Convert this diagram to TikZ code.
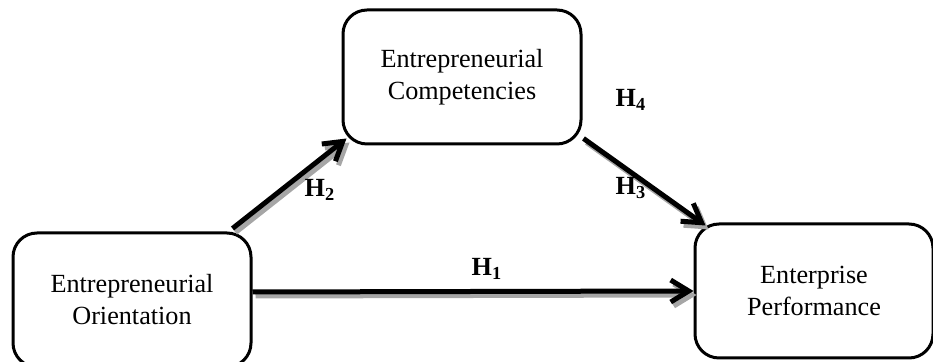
\documentclass[tikz,border=0pt]{standalone}
\usepackage{fontspec}
\setmainfont{Liberation Serif}
\usetikzlibrary{arrows.meta}
\begin{document}
\begin{tikzpicture}[x=0.5pt,y=-0.5pt,
  construct/.style={draw,line width=1.5pt,rounded corners=12pt,
    minimum width=119pt,minimum height=67pt,align=center,
    font=\fontsize{13.1}{16}\selectfont},
  hyp/.style={line width=2.5pt,-{Straight Barb[length=9pt,width=11pt]}},
  hypshadow/.style={hyp,draw=black!35,transform canvas={shift={(1.5pt,-2pt)}}},
  hlabel/.style={font=\fontsize{13.1}{16}\selectfont\bfseries}]
  \useasboundingbox (0,0) rectangle (933,362);
  % constructs
  \node[construct] (orient) at (132,300) {Entrepreneurial\\Orientation};
  \node[construct] (comp) at (462,77) {Entrepreneurial\\Competencies};
  \node[construct] (perf) at (814,291) {Enterprise\\Performance};
  % hypotheses, grey shadow first
  \foreach \lk in {hypshadow,hyp} {
    \draw[\lk] ([shift={(0,-8)}]orient.east) -- (perf.west);
    \draw[\lk] ([shift={(-20,-3)}]orient.north east) -- ([shift={(5,-7)}]comp.south west);
    \draw[\lk] ([shift={(1,-7)}]comp.south east) -- ([shift={(12,3)}]perf.north west);
  }
  \node[hlabel] (h1) at (487,269) {H\textsubscript{1}};
  \node[hlabel] (h2) at (320,190) {H\textsubscript{2}};
  \node[hlabel] (h3) at (631,188) {H\textsubscript{3}};
  \node[hlabel] (h4) at (631,100) {H\textsubscript{4}};
\end{tikzpicture}
\end{document}
